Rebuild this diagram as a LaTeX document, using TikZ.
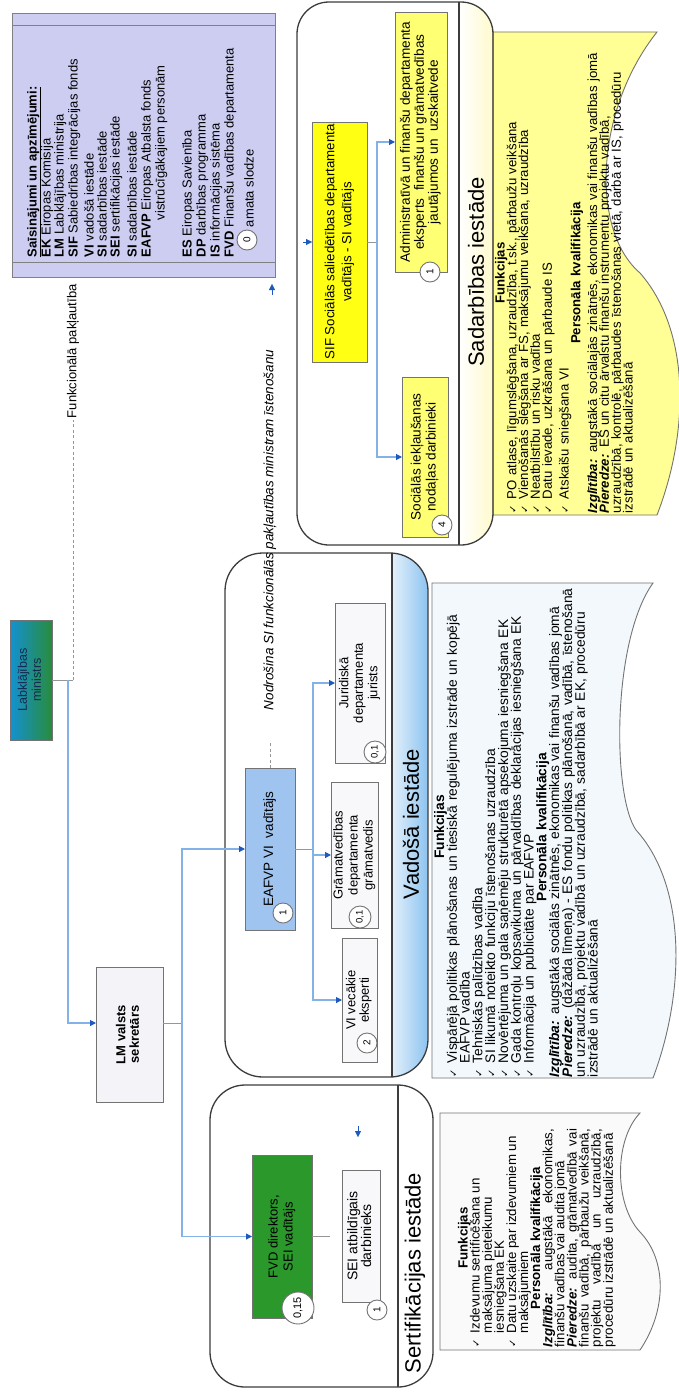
\documentclass[tikz,border=0pt]{standalone}
\usepackage{fontspec}
\usepackage{graphicx}
\setmainfont{Liberation Sans}
\newfontfamily\ckfont{DejaVu Sans}
\usetikzlibrary{arrows.meta,calc}
\definecolor{orgline}{RGB}{130,178,232}
\definecolor{arrowblue}{RGB}{30,90,190}
\definecolor{stubgray}{RGB}{150,150,150}
\definecolor{framegray}{RGB}{60,60,60}
\definecolor{boxgray}{RGB}{115,115,115}
\definecolor{legfill}{RGB}{205,205,242}
\definecolor{sifyellow}{RGB}{255,255,20}
\definecolor{subyellow}{RGB}{255,255,115}
\definecolor{docyellow}{RGB}{255,255,150}
\definecolor{docblue}{RGB}{242,248,252}
\definecolor{docwhite}{RGB}{250,250,250}
\definecolor{eafblue}{RGB}{160,196,240}
\definecolor{fvdgreen}{RGB}{42,152,42}
\definecolor{mingreen}{RGB}{40,140,60}
\definecolor{minblue}{RGB}{20,145,210}
\definecolor{bandblueA}{RGB}{228,240,251}
\definecolor{bandblueB}{RGB}{140,195,240}
\definecolor{bandyellow}{RGB}{255,250,205}
\definecolor{lmgray}{RGB}{244,244,248}
\definecolor{palebox}{RGB}{248,248,250}
\definecolor{mintext}{RGB}{20,40,80}
\newcommand{\fs}[2]{\fontsize{#1}{#2}\selectfont\lineskiplimit=-100pt\lineskip=0pt\relax}
\newcommand{\fsb}[2]{\fontsize{#1}{#2}\selectfont}
\newcommand{\rt}[1]{\rotatebox{90}{\begin{tabular}{@{}c@{}}#1\end{tabular}}}
\newcommand{\ck}{\makebox[14pt][l]{\ckfont\fontsize{10}{10}\selectfont ✓}}
\newcommand{\ckitem}[1]{\par\noindent\hangindent=14pt\hangafter=1\ck#1\par}
\newcommand{\hd}[1]{{\centering\textbf{#1}\par}}
\newcommand{\lbl}[1]{\textbf{\textit{#1}}}
\begin{document}
\begin{tikzpicture}[x=1pt,y=-1pt,
  every node/.style={inner sep=0pt, outer sep=0pt},
  box/.style={draw=boxgray, line width=0.9pt, inner sep=0pt},
  badge/.style={circle, draw=boxgray, fill=white, line width=0.9pt, inner sep=0pt, minimum size=20pt, font=\fsb{10}{10}},
  org/.style={draw=orgline, line width=1.1pt},
  stub/.style={draw=stubgray, line width=0.9pt},
  arr/.style={-{Triangle[length=6pt,width=6pt,color=arrowblue]}},
  tiparr/.style={draw=arrowblue, line width=0.4pt, arr},
  rtxt/.style={rotate=90, inner sep=0pt},
  legtxt/.style={rotate=90, anchor=base west, inner sep=0pt, font=\fsb{13}{14}},
  doctext/.style={rotate=90, anchor=north west, inner sep=0pt},
  frame/.style={draw=framegray, line width=1.3pt},
  docline/.style={draw=boxgray, line width=0.9pt},
]
\useasboundingbox (0,0) rectangle (678,1392);
\fill[white] (0,0) rectangle (678,1392);

% ---------- band fills ----------
\begin{scope}
  \clip[rounded corners=32pt] (297,2) rectangle (493,545);
  \shade[left color=white, right color=bandyellow] (459,2) rectangle (493,545);
\end{scope}
\begin{scope}
  \clip[rounded corners=38pt] (225,553) rectangle (428,1077);
  \shade[left color=bandblueA, right color=bandblueB] (392,553) rectangle (428,1077);
\end{scope}

% ---------- documents ----------
\draw[docline, fill=docyellow] (493,32) -- (493,515) -- (657,515)
  .. controls (690,430) and (690,330) .. (640,273)
  .. controls (590,230) and (595,110) .. (657,32) -- cycle;
\draw[docline, fill=docblue] (432,583) -- (432,1078) -- (653,1078)
  .. controls (686,990) and (686,885) .. (636,830)
  .. controls (612,795) and (612,640) .. (653,583) -- cycle;
\draw[docline, fill=docwhite] (440,1113) -- (440,1350) -- (640,1350)
  .. controls (667,1310) and (667,1260) .. (640,1232)
  .. controls (614,1204) and (614,1140) .. (640,1113) -- cycle;

% ---------- frames ----------
\node[frame, rounded corners=32pt, minimum width=196pt, minimum height=543pt] (sadframe) at (395,273.5) {};
\draw[frame] (459,2) -- (459,545);
\node[frame, rounded corners=38pt, minimum width=203pt, minimum height=524pt] (vadframe) at (326.5,815) {};
\draw[frame] (392,553) -- (392,1077);
\node[frame, rounded corners=35pt, minimum width=223pt, minimum height=302pt] (sertframe) at (321.5,1236) {};
\draw[frame] (398,1085) -- (398,1387);

% ---------- legend ----------
\node[draw=gray, line width=0.9pt, fill=legfill, minimum width=263pt, minimum height=264pt] (legend) at (143.5,145) {};
\draw[gray, line width=0.8pt] (legend.west |- 0,25) -- (legend.east |- 0,25);
\draw[gray, line width=0.8pt] (legend.west |- 0,262) -- (legend.east |- 0,262);
\node[legtxt] (lg1) at (36.5,257) {\underline{\textbf{Saīsinājumi un apzīmējumi:}}};
\node[legtxt] (lg2) at (50.5,257) {\textbf{EK} Eiropas Komisija};
\node[legtxt] (lg3) at (63.5,257) {\textbf{LM} Labklājības ministrija};
\node[legtxt] (lg4) at (77.5,257) {\textbf{SIF} Sabiedrības integrācijas fonds};
\node[legtxt] (lg5) at (93.5,257) {\textbf{VI} vadošā iestāde};
\node[legtxt] (lg6) at (106.5,257) {\textbf{SI} sadarbības iestāde};
\node[legtxt] (lg7) at (119.5,257) {\textbf{SEI} sertifikācijas iestāde};
\node[legtxt] (lg8) at (136.5,257) {\textbf{SI} sadarbības iestāde};
\node[legtxt] (lg9) at (150.5,257) {\textbf{EAFVP} Eiropas Atbalsta fonds};
\node[legtxt] (lg10) at (164.5,220) {vistrūcīgākajiem personām};
\node[legtxt] (lg11) at (191.5,257) {\textbf{ES} Eiropas Savienība};
\node[legtxt] (lg12) at (205.5,257) {\textbf{DP} darbības programma};
\node[legtxt] (lg13) at (219.5,257) {\textbf{IS} informācijas sistēma};
\node[legtxt] (lg14) at (233.5,257) {\textbf{FVD} Finanšu vadības departamenta};
\node[badge] (lg0) at (247,240) {\rotatebox{90}{0}};
\node[legtxt] (lg15) at (253.5,227) {amata slodze};

% ---------- left chain ----------
\node[box, left color=minblue, right color=mingreen, minimum width=42pt, minimum height=120pt, font=\fsb{12.5}{14}, text=mintext] (min) at (31,680) {\rt{Labklājības\\ministrs}};
\node[box, fill=lmgray, minimum width=67pt, minimum height=135pt, font=\bfseries\fsb{13}{13.5}] (lm) at (129.5,1034.5) {\rt{LM valsts\\sekretārs}};
\node[rtxt, anchor=west, inner xsep=2pt, font=\fsb{13}{14}] (fp) at (73,420) {Funkcionālā pakļautība};

% ---------- Vadošā iestāde ----------
\node[box, fill=eafblue, minimum width=50pt, minimum height=162pt, font=\fsb{13.5}{15}] (eaf) at (270,849) {\rt{EAFVP VI\ \ vadītājs}};
\node[badge] (eafb) at (283,913) {\rotatebox{90}{1}};
\node[rtxt, anchor=west, font=\itshape\fsb{13.5}{14}] (nod) at (270,710) {Nodrošina SI funkcionālās pakļautības ministram īstenošanu};
\node[box, fill=palebox, minimum width=50pt, minimum height=160pt, font=\fsb{13}{14.5}] (jur) at (360,683) {\rt{Juridiskā\\departamenta\\jurists}};
\node[badge, minimum size=22pt, font=\fsb{9.5}{10}] (jurb) at (375,752) {\rotatebox{90}{0,1}};
\node[box, fill=palebox, minimum width=47pt, minimum height=146pt, font=\fsb{13}{15}] (gram) at (354.5,855) {\rt{Grāmatvedības\\departamenta\\grāmatvedis}};
\node[badge, minimum size=22pt, font=\fsb{9.5}{10}] (gramb) at (360,917) {\rotatebox{90}{0,1}};
\node[box, fill=palebox, minimum width=35pt, minimum height=124pt, font=\fsb{13}{13.5}] (vivec) at (359.5,1000) {\rt{VI vecākie\\eksperti}};
\node[badge] (vivecb) at (367,1043) {\rotatebox{90}{2}};
\node[rtxt, font=\fsb{22}{24}] (vadhd) at (411,824) {Vadošā iestāde};
\node[doctext, text width=500pt, align=left, font=\fs{13.8}{12.8}] (vadtxt) at (434,1077) {%
\hd{Funkcijas}
\ckitem{Vispārējā politikas plānošanas un tiesiskā regulējuma izstrāde un kopējā\newline EAFVP vadība}
\ckitem{Tehniskās palīdzības vadība}
\ckitem{SI likumā noteikto funkciju īstenošanas uzraudzība}
\ckitem{Novērtējuma un gala saņēmēju strukturētā apsekojuma iesniegšana EK}
\ckitem{Gada kontroļu kopsavikuma un pārvaldības deklarācijas iesniegšana EK}
\ckitem{Informācija un publicitāte par EAFVP}
\hd{Personāla kvalifikācija}
\noindent\lbl{Izglītība:} augstākā sociālās zinātnēs, ekonomikas vai finanšu vadības jomā\par
\noindent\lbl{Pieredze:} (dažāda līmeņa) - ES fondu politikas plānošanā, vadībā, īstenošanā\newline un uzraudzībā, projektu vadībā un uzraudzībā, sadarbībā ar EK, procedūru\newline izstrādē un aktualizēšanā\par};

% ---------- Sadarbības iestāde ----------
\node[box, fill=sifyellow, minimum width=55pt, minimum height=240pt, font=\fsb{13.3}{17}] (sif) at (339.5,242) {\rt{SIF Sociālās saliedētības departamenta\\vadītājs - SI vadītājs}};
\node[box, fill=subyellow, minimum width=52pt, minimum height=260pt, font=\fsb{13.6}{14}] (adm) at (421,142) {\rt{Administratīvā un finanšu departamenta\\eksperts\ \ finanšu un grāmatvedības\\jautājumos un\ \ uzskaitvede}};
\node[badge] (admb) at (430,272) {\rotatebox{90}{1}};
\node[box, fill=subyellow, minimum width=46pt, minimum height=160pt, font=\fsb{13.6}{15}] (soc) at (425,457) {\rt{Sociālās iekļaušanas\\nodaļas darbinieki}};
\node[badge] (socb) at (442,525) {\rotatebox{90}{4}};
\node[rtxt, font=\fsb{22}{24}] (sadhd) at (476,272) {Sadarbības iestāde};
\node[doctext, text width=480pt, align=left, font=\fs{13.2}{11.8}] (sadtxt) at (495,513) {%
\hd{Funkcijas}
\ckitem{PO atlase, līgumslēgšana, uzraudzība, t.sk., pārbaužu veikšana}
\ckitem{Vienošanās slēgšana ar FS, maksājumu veikšana, uzraudzība}
\ckitem{Neatbilstību un risku vadība}
\ckitem{Datu ievade, uzkrāšana un pārbaude IS}
\vspace{5pt}
\ckitem{Atskaišu sniegšana VI}
\hd{Personāla kvalifikācija}
\vspace{5pt}
\noindent\lbl{Izglītība:} augstākā sociālajās zinātnēs, ekonomikas vai finanšu vadības jomā\par
\noindent\lbl{Pieredze:} ES un citu ārvalstu finanšu instrumentu projektu vadībā,\newline uzraudzībā, kontrolē, pārbaudes īstenošanas vietā, darbā ar IS, procedūru\newline izstrādē un aktualizēšanā\par};

% ---------- Sertifikācijas iestāde ----------
\node[box, fill=fvdgreen, minimum width=60pt, minimum height=163pt, font=\fsb{13}{15}] (fvd) at (282,1236.5) {\rt{FVD direktors,\\SEI vadītājs}};
\node[badge, minimum size=32pt, font=\fsb{11}{11}] (fvdb) at (298,1308) {\rotatebox{90}{0,15}};
\node[box, fill=palebox, minimum width=38pt, minimum height=132pt, font=\fsb{14}{12.5}] (sei) at (361,1236) {\rt{SEI atbildīgais\\darbinieks}};
\node[badge] (seib) at (377,1310) {\rotatebox{90}{1}};
\node[rtxt, font=\fsb{22}{24}] (serthd) at (415,1273) {Sertifikācijas iestāde};
\node[doctext, text width=218pt, align=justify, font=\fs{13.3}{12.1}] (serttxt) at (458,1347) {%
\hd{Funkcijas}
\ckitem{Izdevumu sertificēšana un\newline maksājuma pieteikumu\newline iesniegšana EK}
\ckitem{Datu uzskaite par izdevumiem un\newline maksājumiem}
\hd{Personāla kvalifikācija}
\noindent\lbl{Izglītība:} augstākā ekonomikas,\linebreak finanšu vadības vai audita jomā\par
\noindent\lbl{Pieredze:} audita, grāmatvedībā vai\linebreak finanšu vadībā, pārbaužu veikšanā,\linebreak projektu vadībā un uzraudzībā,\linebreak procedūru izstrādē un aktualizēšanā\par};

% ---------- connectors ----------
\coordinate (j1) at (68,680);
\coordinate (j1d) at (73,680);
\coordinate (j2) at (182,1023);
\coordinate (j3) at (313,849);
\coordinate (j4) at (377,242);
\coordinate (fvdend) at (330,1236.5);
\coordinate (nodend) at (270,742);
\coordinate (sifin) at (303,242);
\coordinate (la1) at (272,295);
\coordinate (la2) at (272,284);
\coordinate (sa1) at (358,1126);
\coordinate (sa2) at (358,1137);

\draw[stub] (min.east) -- (j1d);
\draw[stub, dash pattern=on 3pt off 2.5pt] (j1d) -- (fp.west);
\draw[org, arr] (j1) |- (lm.west |- j2);
\draw[stub] (lm.east |- j2) -- (j2);
\draw[org, arr] (j2) |- (eaf.west);
\draw[org, arr] (j2) |- (fvd.west);
\draw[stub] (eaf.east) -- (j3);
\draw[org, arr] (j3) |- (jur.west);
\draw[org, arr] (j3) |- (gram.west);
\draw[org, arr] (j3) |- (vivec.west);
\draw[stub, dash pattern=on 3pt off 2.5pt] (eaf.north) -- (nodend);
\draw[stub] (sif.east) -- (j4);
\draw[org, arr] (j4) |- (adm.west);
\draw[org, arr] (j4) |- (soc.west);
\draw[stub] (fvd.east) -- (fvdend);
\draw[tiparr] (sifin) -- (sif.west);
\draw[tiparr] (la1) -- (la2);
\draw[tiparr] (sa1) -- (sa2);
\end{tikzpicture}
\end{document}
